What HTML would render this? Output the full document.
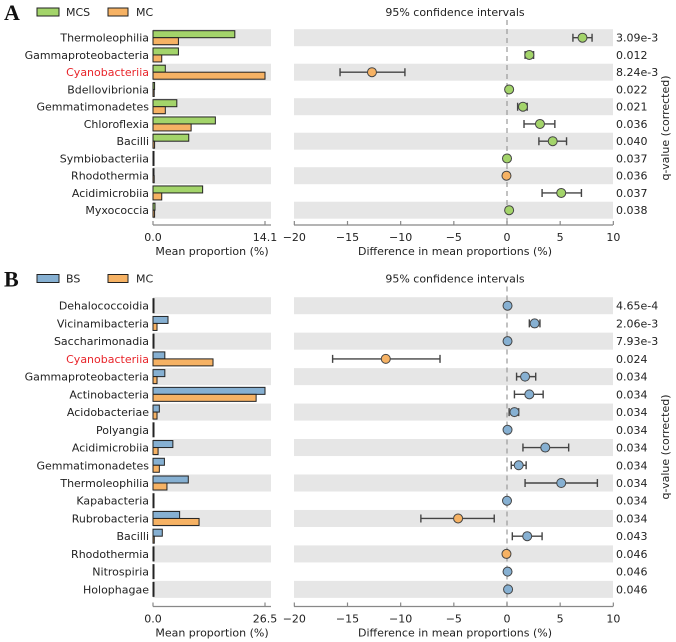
<!DOCTYPE html>
<html><head><meta charset="utf-8"><style>
html,body{margin:0;padding:0;background:#fff;}
svg{display:block;font-family:"DejaVu Sans","Liberation Sans",sans-serif;}
</style></head><body>
<svg id="chart" width="676" height="642" viewBox="0 0 676 642"></svg>
<script>
// ---- Panel A data ----
const catsA = ["Thermoleophilia","Gammaproteobacteria","Cyanobacteriia","Bdellovibrionia","Gemmatimonadetes","Chloroflexia","Bacilli","Symbiobacteriia","Rhodothermia","Acidimicrobiia","Myxococcia"];
const mcsA = [10.3,3.2,1.55,0.2,3.0,7.85,4.5,0.05,0.02,6.25,0.25];
const mcA  = [3.2,1.1,14.1,0.15,1.55,4.8,0.2,0.03,0.15,1.1,0.2];
const diffA = [7.1,2.1,-12.7,0.2,1.5,3.1,4.3,0.0,-0.05,5.1,0.2];
const loA   = [6.2,1.7,-15.7,0.2,1.0,1.6,3.0,0.0,-0.05,3.3,0.2];
const hiA   = [8.0,2.5,-9.6,0.2,1.9,4.5,5.6,0.0,-0.05,7.0,0.2];
const qA = ["3.09e-3","0.012","8.24e-3","0.022","0.021","0.036","0.040","0.037","0.036","0.037","0.038"];
// ---- Panel B data ----
const catsB = ["Dehalococcoidia","Vicinamibacteria","Saccharimonadia","Cyanobacteriia","Gammaproteobacteria","Actinobacteria","Acidobacteriae","Polyangia","Acidimicrobiia","Gemmatimonadetes","Thermoleophilia","Kapabacteria","Rubrobacteria","Bacilli","Rhodothermia","Nitrospiria","Holophagae"];
const bsB = [0.1,3.55,0.1,2.8,2.8,26.5,1.5,0.1,4.7,2.7,8.35,0.05,6.3,2.2,0.05,0.05,0.1];
const mcB = [0.05,0.95,0.05,14.2,0.95,24.4,0.95,0.05,1.2,1.5,3.3,0.02,10.9,0.3,0.05,0.02,0.1];
const diffB = [0.05,2.6,0.05,-11.4,1.7,2.1,0.7,0.05,3.6,1.1,5.1,0.0,-4.6,1.9,-0.05,0.05,0.1];
const loB   = [0.05,2.1,0.05,-16.4,0.9,0.7,0.2,0.05,1.5,0.4,1.7,0.0,-8.1,0.5,-0.05,0.05,0.1];
const hiB   = [0.05,3.1,0.05,-6.3,2.7,3.4,1.1,0.05,5.8,1.8,8.5,0.0,-1.2,3.3,-0.05,0.05,0.1];
const qB = ["4.65e-4","2.06e-3","7.93e-3","0.024","0.034","0.034","0.034","0.034","0.034","0.034","0.034","0.034","0.034","0.043","0.046","0.046","0.046"];
const diffTicks = [-20,-15,-10,-5,0,5,10];

const NS="http://www.w3.org/2000/svg";
const svg=document.getElementById('chart');
function el(tag,attrs,parent,text){const e=document.createElementNS(NS,tag);for(const k in attrs)e.setAttribute(k,attrs[k]);if(text!==undefined)e.textContent=text;(parent||svg).appendChild(e);return e;}

const GREEN="#a3d46a",ORANGE="#f6b264",BLUE="#86b0d2",GREY="#e6e6e6",AX="#888";
function panel(o){
  const g=el('g',{});
  
  
  const n=o.cats.length;
  const yc=i=>o.y0+i*o.pitch;
  const bx=v=>153+v*(112/o.bmax);
  const dx=v=>507+v*(319/30);
  // bands
  for(let i=0;i<n;i+=2){
    const b1=el('rect',{x:153,y:yc(i)-8.5,width:118,height:17,fill:GREY},g);
    
    
    const b2=el('rect',{x:294,y:yc(i)-8.5,width:319,height:17,fill:GREY},g);
    
    
  }
  // zero dashed line
  const zl=el('line',{x1:dx(0),x2:dx(0),y1:o.ciY+8,y2:o.axY,stroke:"#999","stroke-width":1.2,"stroke-dasharray":"5,4"},g);
  
  
  for(let i=0;i<n;i++){
    const y=yc(i);
    const lab=el('text',{x:149,y:y+4,"text-anchor":"end","font-size":11,fill:o.cats[i]==="Cyanobacteriia"?"#e8242a":"#222"},g,o.cats[i]);
    
    
    const r1=el('rect',{x:153,y:y-7,width:Math.max(1,bx(o.s1[i])-153),height:7,fill:o.c1,stroke:"#222","stroke-width":1},g);
    
    
    const r2=el('rect',{x:153,y:y,width:Math.max(1,bx(o.s2[i])-153),height:7,fill:o.c2,stroke:"#222","stroke-width":1},g);
    
    
    if(o.hi[i]-o.lo[i]>0.01){
      const eb=el('path',{d:`M${dx(o.lo[i])},${y}H${dx(o.hi[i])}M${dx(o.lo[i])},${y-4}V${y+4}M${dx(o.hi[i])},${y-4}V${y+4}`,stroke:"#444","stroke-width":1.4,fill:"none"},g);
      
      
    }
    const pt=el('circle',{cx:dx(o.diff[i]),cy:y,r:4.5,fill:o.diff[i]<0?o.c2:o.c1,stroke:"#444","stroke-width":1},g);
    
    
    const q=el('text',{x:616,y:y+4,"font-size":11,fill:"#222"},g,o.q[i]);
    
    
  }
  // axes
  const a1=el('path',{d:`M153,${o.axY}H271M153,${o.axY-4}V${o.axY}M265,${o.axY-4}V${o.axY}`,stroke:AX,"stroke-width":1.2,fill:"none"},g);
  
  
  const t0=el('text',{x:153,y:o.axY+16,"text-anchor":"middle","font-size":11,fill:"#222"},g,"0.0");
  
  
  const t1=el('text',{x:265,y:o.axY+16,"text-anchor":"middle","font-size":11,fill:"#222"},g,String(o.bmax.toFixed(1)));
  
  
  const at1=el('text',{x:212,y:o.axY+30,"text-anchor":"middle","font-size":11,fill:"#222"},g,"Mean proportion (%)");
  
  
  const a2=el('line',{x1:294,x2:613,y1:o.axY,y2:o.axY,stroke:AX,"stroke-width":1.2},g);
  
  
  diffTicks.forEach(t=>{
    const tk=el('line',{x1:dx(t),x2:dx(t),y1:o.axY-4,y2:o.axY,stroke:AX,"stroke-width":1.2},g);
    
    
    const tl=el('text',{x:dx(t),y:o.axY+16,"text-anchor":"middle","font-size":11,fill:"#222"},g,t<0?"\u2212"+Math.abs(t):String(t));
    
    
  });
  const at2=el('text',{x:455,y:o.axY+30,"text-anchor":"middle","font-size":11,fill:"#222"},g,"Difference in mean proportions (%)");
  
  
  const ci=el('text',{x:455,y:o.ciY+4,"text-anchor":"middle","font-size":11,fill:"#222"},g,"95% confidence intervals");
  
  
  const qt=el('text',{x:0,y:0,"text-anchor":"middle","font-size":11,fill:"#222",transform:`translate(669,${o.qMid}) rotate(-90)`},g,"q-value (corrected)");
  
  
  // legend + letter
  const L=el('text',{x:4,y:o.ciY+8,"font-size":22,"font-weight":"bold","font-family":"Liberation Serif, serif",fill:"#111"},g,o.letter);
  
  
  const s1=el('rect',{x:37,y:o.ciY-4,width:22,height:8,fill:o.c1,stroke:"#222"},g);
  
  
  const l1=el('text',{x:66,y:o.ciY+4,"font-size":11,fill:"#222"},g,o.n1);
  
  
  const s2=el('rect',{x:108,y:o.ciY-4,width:20,height:8,fill:o.c2,stroke:"#222"},g);
  
  
  const l2=el('text',{x:136,y:o.ciY+4,"font-size":11,fill:"#222"},g,o.n2);
  
  
}
panel({name:'panel-a',letter:'A',cats:catsA,s1:mcsA,s2:mcA,diff:diffA,lo:loA,hi:hiA,q:qA,bmax:14.1,y0:37.7,pitch:17.25,axY:225,ciY:12,qMid:128,c1:GREEN,c2:ORANGE,n1:"MCS",n2:"MC"});
panel({name:'panel-b',letter:'B',cats:catsB,s1:bsB,s2:mcB,diff:diffB,lo:loB,hi:hiB,q:qB,bmax:26.5,y0:305.7,pitch:17.73,axY:606.5,ciY:278.5,qMid:447,c1:BLUE,c2:ORANGE,n1:"BS",n2:"MC"});
</script>
</body></html>
